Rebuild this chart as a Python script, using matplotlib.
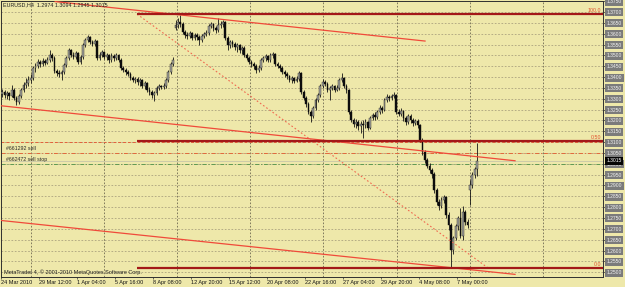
import numpy as np
import matplotlib.pyplot as plt
from matplotlib import transforms

plt.rcParams['font.family'] = ['Liberation Sans', 'DejaVu Sans']

# ---- chart data (EURUSD H4, prices in points = 1/10000) ----
title_text = "EURUSD,H4  1.2974 1.3094 1.2945 1.3015"
copyright_text = "MetaTrader 4, \u00a9 2001-2010 MetaQuotes Software Corp."

time_labels = ["24 Mar 2010", "29 Mar 12:00", "1 Apr 04:00", "5 Apr 16:00",
               "8 Apr 08:00", "12 Apr 20:00", "15 Apr 12:00", "20 Apr 08:00",
               "22 Apr 16:00", "27 Apr 04:00", "29 Apr 20:00", "4 May 08:00",
               "7 May 00:00"]

opens = [13322, 13331, 13317, 13327, 13313, 13340, 13304, 13285, 13313, 13340,
         13363, 13373, 13387, 13396, 13442, 13451, 13469, 13460, 13474, 13465,
         13479, 13502, 13488, 13428, 13419, 13414, 13423, 13456, 13488, 13525,
         13502, 13493, 13511, 13469, 13493, 13548, 13571, 13585, 13562, 13552,
         13566, 13488, 13502, 13516, 13493, 13502, 13479, 13497, 13488, 13502,
         13479, 13442, 13433, 13423, 13414, 13396, 13387, 13391, 13377, 13387,
         13359, 13373, 13340, 13331, 13317, 13327, 13350, 13359, 13354, 13359,
         13387, 13423, 13460, 13626, 13640, 13654, 13645, 13608, 13594, 13589,
         13603, 13580, 13594, 13585, 13571, 13589, 13599, 13603, 13635, 13645,
         13626, 13617, 13640, 13645, 13654, 13580, 13548, 13562, 13552, 13539,
         13548, 13525, 13534, 13502, 13488, 13469, 13460, 13451, 13433, 13442,
         13479, 13488, 13497, 13479, 13502, 13506, 13460, 13451, 13442, 13423,
         13414, 13405, 13387, 13396, 13382, 13391, 13419, 13331, 13304, 13276,
         13239, 13221, 13257, 13294, 13317, 13359, 13377, 13368, 13340, 13350,
         13359, 13340, 13350, 13387, 13396, 13359, 13340, 13239, 13202, 13184,
         13193, 13174, 13184, 13179, 13193, 13165, 13211, 13225, 13216, 13239,
         13257, 13248, 13294, 13308, 13304, 13313, 13317, 13239, 13230, 13244,
         13211, 13193, 13221, 13202, 13188, 13197, 13179, 13110, 13055, 13018,
         12990, 12972, 12953, 12879, 12824, 12806, 12833, 12847, 12764, 12718,
         12603, 12658, 12713, 12750, 12667, 12778, 12732, 12879, 12902, 12949,
         12974]

highs = [13345, 13340, 13336, 13331, 13363, 13350, 13313, 13322, 13350, 13377,
         13396, 13405, 13414, 13451, 13465, 13483, 13479, 13488, 13483, 13493,
         13525, 13511, 13497, 13437, 13433, 13433, 13465, 13497, 13534, 13529,
         13516, 13520, 13516, 13502, 13557, 13580, 13594, 13589, 13571, 13576,
         13571, 13516, 13525, 13520, 13511, 13506, 13511, 13506, 13511, 13506,
         13488, 13451, 13442, 13433, 13423, 13405, 13400, 13400, 13396, 13391,
         13382, 13377, 13354, 13340, 13336, 13359, 13368, 13363, 13373, 13396,
         13433, 13469, 13493, 13663, 13672, 13686, 13654, 13617, 13608, 13612,
         13608, 13603, 13603, 13594, 13599, 13608, 13617, 13645, 13654, 13649,
         13635, 13672, 13658, 13663, 13658, 13589, 13571, 13571, 13562, 13557,
         13552, 13543, 13543, 13511, 13497, 13479, 13469, 13460, 13456, 13488,
         13497, 13506, 13502, 13511, 13516, 13511, 13469, 13460, 13451, 13433,
         13423, 13410, 13405, 13400, 13405, 13428, 13423, 13340, 13313, 13285,
         13248, 13267, 13304, 13327, 13368, 13391, 13387, 13377, 13359, 13368,
         13363, 13363, 13396, 13419, 13400, 13368, 13345, 13248, 13211, 13207,
         13202, 13197, 13202, 13207, 13197, 13221, 13234, 13239, 13248, 13271,
         13267, 13304, 13322, 13317, 13322, 13331, 13322, 13253, 13257, 13248,
         13221, 13230, 13230, 13211, 13207, 13207, 13184, 13119, 13064, 13027,
         13004, 12981, 12962, 12889, 12838, 12847, 12856, 12852, 12778, 12727,
         12667, 12723, 12760, 12796, 12806, 12787, 12746, 12926, 12962, 12985,
         13094]

lows = [13308, 13304, 13299, 13294, 13308, 13294, 13271, 13276, 13304, 13331,
        13350, 13359, 13373, 13387, 13423, 13442, 13446, 13451, 13456, 13460,
        13469, 13474, 13419, 13405, 13400, 13387, 13414, 13446, 13479, 13493,
        13483, 13483, 13460, 13460, 13483, 13539, 13562, 13552, 13543, 13543,
        13479, 13479, 13493, 13483, 13479, 13465, 13469, 13474, 13479, 13469,
        13433, 13423, 13410, 13405, 13387, 13377, 13373, 13363, 13359, 13350,
        13345, 13331, 13317, 13304, 13290, 13317, 13340, 13345, 13345, 13350,
        13377, 13414, 13451, 13617, 13626, 13631, 13599, 13580, 13576, 13580,
        13571, 13571, 13571, 13548, 13562, 13580, 13589, 13594, 13626, 13612,
        13603, 13608, 13626, 13631, 13571, 13525, 13534, 13539, 13525, 13516,
        13511, 13506, 13493, 13479, 13460, 13446, 13437, 13419, 13423, 13433,
        13469, 13474, 13469, 13469, 13488, 13451, 13442, 13428, 13414, 13400,
        13391, 13377, 13373, 13373, 13377, 13382, 13322, 13294, 13262, 13230,
        13193, 13211, 13248, 13285, 13308, 13350, 13359, 13331, 13294, 13340,
        13331, 13336, 13340, 13377, 13350, 13327, 13230, 13193, 13170, 13165,
        13156, 13142, 13119, 13165, 13156, 13161, 13202, 13202, 13207, 13230,
        13234, 13244, 13285, 13290, 13294, 13304, 13230, 13221, 13221, 13197,
        13179, 13184, 13188, 13174, 13179, 13165, 13101, 13041, 13004, 12981,
        12958, 12935, 12866, 12810, 12787, 12796, 12819, 12750, 12695, 12520,
        12584, 12649, 12695, 12658, 12649, 12718, 12704, 12810, 12889, 12935,
        12945]

closes = [13331, 13317, 13327, 13313, 13340, 13304, 13285, 13313, 13340, 13363,
          13373, 13387, 13396, 13442, 13451, 13469, 13460, 13474, 13465, 13479,
          13502, 13488, 13428, 13419, 13414, 13423, 13456, 13488, 13525, 13502,
          13493, 13511, 13469, 13493, 13548, 13571, 13585, 13562, 13552, 13566,
          13488, 13502, 13516, 13493, 13502, 13479, 13497, 13488, 13502, 13479,
          13442, 13433, 13423, 13414, 13396, 13387, 13391, 13377, 13387, 13359,
          13373, 13340, 13331, 13317, 13327, 13350, 13359, 13354, 13359, 13387,
          13423, 13460, 13479, 13640, 13654, 13645, 13608, 13594, 13589, 13603,
          13580, 13594, 13585, 13571, 13589, 13599, 13603, 13635, 13645, 13626,
          13617, 13640, 13645, 13654, 13580, 13548, 13562, 13552, 13539, 13548,
          13525, 13534, 13502, 13488, 13469, 13460, 13451, 13433, 13442, 13479,
          13488, 13497, 13479, 13502, 13506, 13460, 13451, 13442, 13423, 13414,
          13405, 13387, 13396, 13382, 13391, 13419, 13331, 13304, 13276, 13239,
          13221, 13257, 13294, 13317, 13359, 13377, 13368, 13340, 13350, 13359,
          13340, 13350, 13387, 13396, 13359, 13340, 13239, 13202, 13184, 13193,
          13174, 13184, 13179, 13193, 13165, 13211, 13225, 13216, 13239, 13257,
          13248, 13294, 13308, 13304, 13313, 13317, 13239, 13230, 13244, 13211,
          13193, 13221, 13202, 13188, 13197, 13179, 13110, 13055, 13018, 12990,
          12972, 12953, 12879, 12824, 12806, 12833, 12847, 12764, 12718, 12603,
          12658, 12713, 12750, 12667, 12778, 12732, 12718, 12902, 12949, 12974,
          13015]

# fibonacci object: anchors (bar, price) and levels
fib_anchor_bars = [56.8, 204.6]
fib_anchor_prices = [1.3690, 1.2520]
fib_levels = [1.3690, 1.3105, 1.2520]
fib_names = ["100.0", "0.50", "0.0"]

# trendlines drawn on the chart: (bar start, bar end), (price start, price end)
trend_bars = [(22.3, 178.1), (-0.84, 216.0), (-0.84, 216.0)]
trend_prices = [(1.3748, 1.3566), (1.3268, 1.3014), (1.2739, 1.2490)]

# order lines
order_prices = [1.3050, 1.3000]
order_names = ["#661292 sell", "#662472 sell stop"]
stop_price = 1.3100
bid_price = 1.3015

price_ticks = np.round(np.arange(1.2500, 1.37501, 0.005), 4)

# ---- figure ----
BG = '#EEE8AA'
fig = plt.figure(figsize=(6.25, 2.87), dpi=100, facecolor=BG)
ax = fig.add_axes([1 / 625, 10 / 287, 602 / 625, 276 / 287], facecolor=BG)

o = np.array(opens) / 1e4
h = np.array(highs) / 1e4
l = np.array(lows) / 1e4
c = np.array(closes) / 1e4
idx = np.arange(len(c))

# grid: horizontal at every price tick, vertical at week starts
for p in price_ticks:
    ax.axhline(p, color='#aaa27e', lw=0.6, ls=(0, (2, 2)), zorder=1)
for k in range(8):
    ax.axvline(12.1 + 30.8 * k, color='#6e6850', lw=0.6, ls=(0, (2, 2)), zorder=1)

# order / stop lines
ax.axhline(stop_price, color='#e2603c', lw=0.7, ls=(0, (3, 2)), zorder=2)
ax.axhline(order_prices[0], color='#e2683c', lw=0.7, ls=(0, (4, 2, 1, 2)), zorder=2)
ax.axhline(order_prices[1], color='#5f9a52', lw=0.7, ls=(0, (4, 2, 1, 2)), zorder=2)
ax.axhline(bid_price, color='#c8c6a8', lw=0.6, zorder=2)
label_tf = transforms.offset_copy(ax.get_yaxis_transform(), fig=fig, y=1.2, units='points')
for p, name in zip(order_prices, order_names):
    ax.text(0.008, p, name, transform=label_tf, fontsize=3.8, color='#2a2a2a',
            va='bottom', ha='left', zorder=6)

# candles
up = c >= o
ax.vlines(idx, l, h, color='#151515', lw=0.6, zorder=3)
bottom = np.minimum(o, c)
height = np.maximum(np.abs(c - o), 0.00008)
ax.bar(idx[up], height[up], bottom=bottom[up], width=0.75, color='#a2a29a',
       edgecolor='#202020', lw=0.3, zorder=4)
ax.bar(idx[~up], height[~up], bottom=bottom[~up], width=0.75, color='#0c0c0c',
       edgecolor='#0c0c0c', lw=0.3, zorder=4)

# trendlines
for xs, ys in zip(trend_bars, trend_prices):
    ax.plot(xs, ys, color='#f04a3a', lw=0.9, zorder=5)

# fibonacci retracement
ax.plot(fib_anchor_bars, fib_anchor_prices, color='#f06a50', lw=0.8,
        ls=(0, (1.5, 2)), zorder=5)
fib_tf = transforms.offset_copy(ax.get_yaxis_transform(), fig=fig, y=0.6, units='points')
for p, name in zip(fib_levels, fib_names):
    ax.hlines(p, fib_anchor_bars[0], 260, color='#a31818', lw=1.6, zorder=5)
    ax.text(0.997, p, name, transform=fib_tf, fontsize=3.8, color='#e0502e',
            ha='right', va='bottom', zorder=6)

# texts
ax.text(0.0033, 0.9855, title_text, transform=ax.transAxes, fontsize=3.9,
        color='#202020', va='center', ha='left', zorder=6)
ax.text(0.005, 0.018, copyright_text, transform=ax.transAxes, fontsize=4.0,
        color='#202020', va='center', ha='left', zorder=6)

# axes
ax.set_xlim(-0.421, 253.05)
ax.set_ylim(1.24779, 1.37507)
for s in ax.spines.values():
    s.set_color('#303030')
    s.set_linewidth(0.7)

ax.yaxis.tick_right()
ax.set_yticks(price_ticks)
ax.set_yticklabels([f"{p:.4f}" for p in price_ticks])
ax.tick_params(axis='y', length=1.5, width=0.5, pad=1.1, labelsize=3.6,
               color='#303030', labelcolor='#f2f2f2')
for lab in ax.get_yticklabels():
    lab.set_bbox(dict(boxstyle='square,pad=0.3', fc='#7b7b7b', ec='none'))

ax.text(1.0058, bid_price, f"{bid_price:.4f}", transform=ax.get_yaxis_transform(),
        fontsize=3.6, color='white', va='center', ha='left', clip_on=False, zorder=7,
        bbox=dict(boxstyle='square,pad=0.3', fc='#050505', ec='none'))

ax.set_xticks([16 * k - 0.5 for k in range(len(time_labels))])
ax.set_xticklabels(time_labels, ha='left')
ax.tick_params(axis='x', length=1.5, width=0.5, pad=1.0, labelsize=4.0,
               color='#303030', labelcolor='#151515')

fig.savefig('out.png', dpi=100, facecolor=BG)
